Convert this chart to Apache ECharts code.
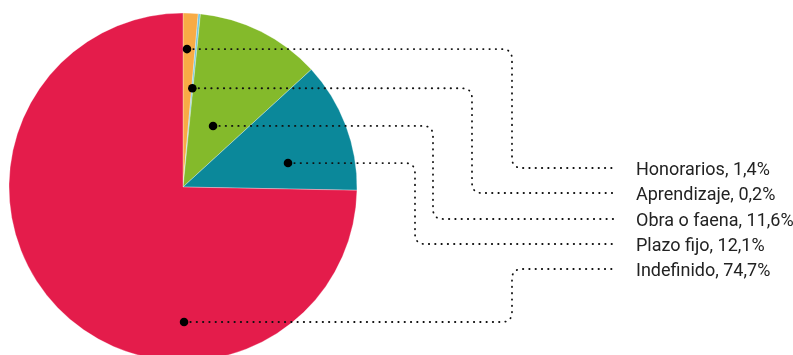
<!DOCTYPE html>
<html><head><meta charset="utf-8">
<script src="https://cdn.jsdelivr.net/npm/echarts@6/dist/echarts.min.js"></script>
<style>html,body{margin:0;padding:0;background:#fff}#c{width:793px;height:355px}</style>
</head><body><div id="c"></div>
<script>
const categories = ['Honorarios', 'Aprendizaje', 'Obra o faena', 'Plazo fijo', 'Indefinido'];
const values = [1.4, 0.2, 11.6, 12.1, 74.7];
const valueLabels = ['1,4%', '0,2%', '11,6%', '12,1%', '74,7%'];
const colors = ['#F8AB45', '#6BC4DF', '#84BA2B', '#0B889A', '#E41C4B'];

// leader layout (annotation placement, not data)
const anchorT = [0.33, 0.5, 0.49, 0.68, 0.329];   // fraction across slice angle
const anchorR = [0.793, 0.57, 0.391, 0.619, 0.776]; // fraction of radius
const turnX = [512, 472, 433, 415, 512];
const labelY = [168, 193, 219, 244, 269];
const lineEndX = 614, labelX = 636, cornerR = 10;

const chart = echarts.init(document.getElementById('c'), null, {renderer: 'canvas'});
chart.setOption({
  animation: false,
  series: [{
    type: 'pie', center: [183, 187], radius: 174, startAngle: 90, clockwise: true,
    label: {show: false}, labelLine: {show: false}, silent: true,
    emphasis: {disabled: true},
    itemStyle: {borderColor: 'rgba(255,255,255,0.6)', borderWidth: 0.5},
    data: categories.map((c, i) => ({name: c, value: values[i], itemStyle: {color: colors[i]}}))
  }]
});

function getLayouts() {
  try {
    const data = chart.getModel().getSeriesByIndex(0).getData();
    const out = [];
    for (let i = 0; i < categories.length; i++) out.push(data.getItemLayout(i));
    if (out.every(l => l && isFinite(l.startAngle))) return out;
  } catch (e) {}
  const total = values.reduce((a, b) => a + b, 0);
  let a = -Math.PI / 2; const out = [];
  values.forEach(v => { const e = a + v / total * Math.PI * 2; out.push({cx: 183, cy: 187, r: 174, startAngle: a, endAngle: e}); a = e; });
  return out;
}

function quad(p0, p1, p2, n) {
  const pts = [];
  for (let k = 0; k <= n; k++) {
    const t = k / n, u = 1 - t;
    pts.push([u*u*p0[0] + 2*u*t*p1[0] + t*t*p2[0], u*u*p0[1] + 2*u*t*p1[1] + t*t*p2[1]]);
  }
  return pts;
}

const layouts = getLayouts();
const elements = [];
layouts.forEach((l, i) => {
  const ang = l.startAngle + anchorT[i] * (l.endAngle - l.startAngle);
  const rr = anchorR[i] * l.r;
  const ax = l.cx + rr * Math.cos(ang), ay = l.cy + rr * Math.sin(ang);
  const tx = turnX[i], ly = labelY[i];
  const s = ly > ay ? 1 : -1;
  let pts = [[ax, ay]];
  pts = pts.concat(quad([tx - cornerR, ay], [tx, ay], [tx, ay + s * cornerR], 8));
  pts = pts.concat(quad([tx, ly - s * cornerR], [tx, ly], [tx + cornerR, ly], 8));
  pts.push([lineEndX, ly]);
  elements.push({
    type: 'polyline', z: 100, silent: true,
    shape: {points: pts},
    style: {stroke: '#111', fill: null, lineWidth: 1.8, lineDash: [0.4, 5.9], lineCap: 'round'}
  });
  elements.push({
    type: 'circle', z: 101, silent: true,
    shape: {cx: ax, cy: ay, r: 4.3},
    style: {fill: '#000'}
  });
  elements.push({
    type: 'text', z: 101, silent: true, x: labelX, y: ly + 2,
    style: {text: categories[i] + ', ' + valueLabels[i], fill: '#222',
      font: '18px Roboto', verticalAlign: 'middle', align: 'left'}
  });
});
chart.setOption({graphic: {elements: elements}});
</script>
</body></html>
